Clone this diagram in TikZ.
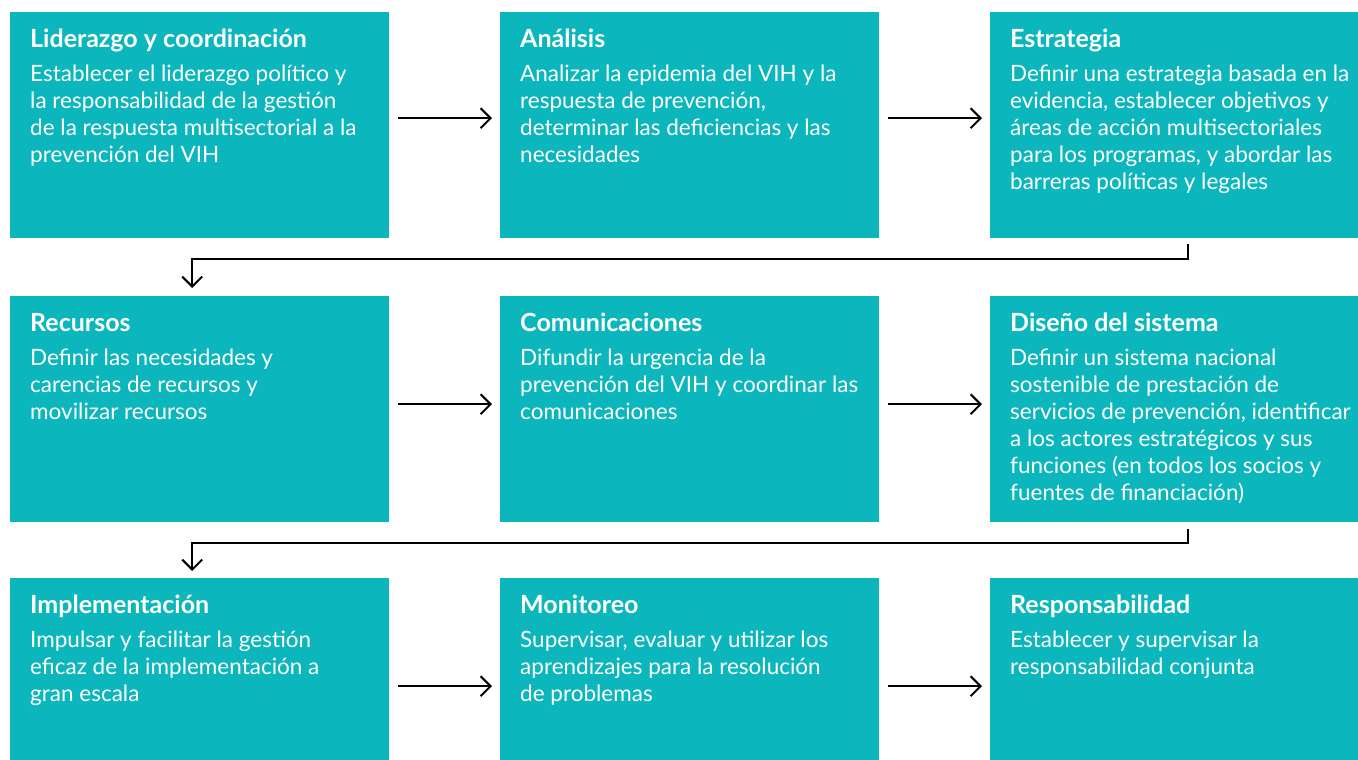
\documentclass[tikz,border=0pt]{standalone}
\usepackage{fontspec}
\setmainfont{Lato}
\usetikzlibrary{positioning,arrows.meta,calc}
\definecolor{hivteal}{RGB}{11,183,189}

\begin{document}
\begin{tikzpicture}[x=1pt, y=-1pt,
    stage/.style={rectangle, fill=hivteal, minimum width=379pt, minimum height=226pt, anchor=north west, inner sep=0pt},
    stagetext/.style={anchor=north west, align=left, inner sep=0pt, text=white, font=\fontsize{22.5}{27}\selectfont},
    flow/.style={-{Straight Barb[length=10pt,width=20pt]}, line width=2pt, shorten <=9pt, shorten >=8pt}
]
\clip (0,0) rectangle (1358,760);

% Row 1
\node[stage] (lid) at (10,12) {};
\node[stage] (ana) at (500,12) {};
\node[stage] (est) at (990,12) {};

% Row 2
\node[stage] (rec) at (10,296) {};
\node[stage] (com) at (500,296) {};
\node[stage] (dis) at (990,296) {};

% Row 3 (cut off at the bottom and right)
\node[stage] (imp) at (10,578) {};
\node[stage] (mon) at (500,578) {};
\node[stage] (res) at (990,578) {};

% Texts
\node[stagetext] (lidtxt) at ([xshift=20pt,yshift=-13pt]lid.north west) {{\bfseries\fontsize{25}{27}\selectfont\rule{0pt}{22pt}Liderazgo y coordinación}\\[7pt]
    Establecer el liderazgo político y\\la responsabilidad de la gestión\\de la respuesta multisectorial a la\\prevención del VIH};
\node[stagetext] (anatxt) at ([xshift=20pt,yshift=-13pt]ana.north west) {{\bfseries\fontsize{25}{27}\selectfont\rule{0pt}{22pt}Análisis}\\[7pt]
    Analizar la epidemia del VIH y la\\respuesta de prevención,\\determinar las deficiencias y las\\necesidades};
\node[stagetext] (esttxt) at ([xshift=20pt,yshift=-13pt]est.north west) {{\bfseries\fontsize{25}{27}\selectfont\rule{0pt}{22pt}Estrategia}\\[7pt]
    Definir una estrategia basada en la\\evidencia, establecer objetivos y\\áreas de acción multisectoriales\\para los programas, y abordar las\\barreras políticas y legales};

\node[stagetext] (rectxt) at ([xshift=20pt,yshift=-13pt]rec.north west) {{\bfseries\fontsize{25}{27}\selectfont\rule{0pt}{22pt}Recursos}\\[7pt]
    Definir las necesidades y\\carencias de recursos y\\movilizar recursos};
\node[stagetext] (comtxt) at ([xshift=20pt,yshift=-13pt]com.north west) {{\bfseries\fontsize{25}{27}\selectfont\rule{0pt}{22pt}Comunicaciones}\\[7pt]
    Difundir la urgencia de la\\prevención del VIH y coordinar las\\comunicaciones};
\node[stagetext] (distxt) at ([xshift=20pt,yshift=-13pt]dis.north west) {{\bfseries\fontsize{25}{27}\selectfont\rule{0pt}{22pt}Diseño del sistema}\\[7pt]
    Definir un sistema nacional\\sostenible de prestación de\\servicios de prevención, identificar\\a los actores estratégicos y sus\\funciones (en todos los socios y\\fuentes de financiación)};

\node[stagetext] (imptxt) at ([xshift=20pt,yshift=-13pt]imp.north west) {{\bfseries\fontsize{25}{27}\selectfont\rule{0pt}{22pt}Implementación}\\[7pt]
    Impulsar y facilitar la gestión\\eficaz de la implementación a\\gran escala};
\node[stagetext] (montxt) at ([xshift=20pt,yshift=-13pt]mon.north west) {{\bfseries\fontsize{25}{27}\selectfont\rule{0pt}{22pt}Monitoreo}\\[7pt]
    Supervisar, evaluar y utilizar los\\aprendizajes para la resolución\\de problemas};
\node[stagetext] (restxt) at ([xshift=20pt,yshift=-13pt]res.north west) {{\bfseries\fontsize{25}{27}\selectfont\rule{0pt}{22pt}Responsabilidad}\\[7pt]
    Establecer y supervisar la\\responsabilidad conjunta};

% Arrows along each row
\draw[flow] ([yshift=7pt]lid.east) -- ([yshift=7pt]ana.west);
\draw[flow] ([yshift=7pt]ana.east) -- ([yshift=7pt]est.west);
\draw[flow] ([yshift=5pt]rec.east) -- ([yshift=5pt]com.west);
\draw[flow] ([yshift=5pt]com.east) -- ([yshift=5pt]dis.west);
\draw[flow] ([yshift=5pt]imp.east) -- ([yshift=5pt]mon.west);
\draw[flow] ([yshift=5pt]mon.east) -- ([yshift=5pt]res.west);

% Back to the start of the next row
\coordinate (drop1) at (600,259);
\coordinate (drop2) at (600,543);
\draw[flow, shorten <=6pt] ([xshift=8.5pt]est.south) |- (drop1) -| ([xshift=-7.5pt]rec.north);
\draw[flow, shorten <=7pt, shorten >=7pt] ([xshift=8.5pt]dis.south) |- (drop2) -| ([xshift=-7.5pt]imp.north);

\end{tikzpicture}
\end{document}
